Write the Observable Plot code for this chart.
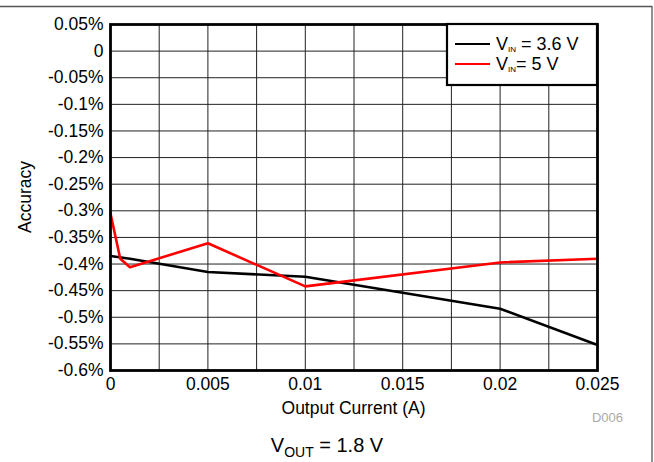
<!DOCTYPE html>
<html>
<head>
<meta charset="utf-8">
<script src="https://cdn.jsdelivr.net/npm/d3@7"></script>
<script src="https://cdn.jsdelivr.net/npm/@observablehq/plot@0.6"></script>
<style>
  html, body { margin: 0; padding: 0; background: #fff; }
  #chart svg { display: block; }
</style>
</head>
<body>
<div id="chart"></div>
<script>
// Data (accuracy in %)
const currentA = [0, 0.0005, 0.001, 0.005, 0.01, 0.02, 0.025];
const vin36 = [-0.385, null, -0.39, -0.415, -0.424, -0.484, -0.552];
const vin5 = [-0.305, -0.39, -0.406, -0.361, -0.442, -0.397, -0.39];

const seriesNames = ["VIN = 3.6 V", "VIN = 5 V"];
const seriesColors = ["#000000", "#ff0000"];

const yTicks = [0.05, 0, -0.05, -0.1, -0.15, -0.2, -0.25, -0.3, -0.35, -0.4, -0.45, -0.5, -0.55, -0.6];
const yTickLabels = ["0.05%", "0", "-0.05%", "-0.1%", "-0.15%", "-0.2%", "-0.25%", "-0.3%", "-0.35%", "-0.4%", "-0.45%", "-0.5%", "-0.55%", "-0.6%"];
const xTicks = [0, 0.005, 0.01, 0.015, 0.02, 0.025];
const xTickLabels = ["0", "0.005", "0.01", "0.015", "0.02", "0.025"];
const xGrid = [0.0025, 0.005, 0.0075, 0.01, 0.0125, 0.015, 0.0175, 0.02, 0.0225];

const rows = [];
currentA.forEach((x, i) => {
  if (vin36[i] != null) rows.push({x, y: vin36[i], s: seriesNames[0]});
});
currentA.forEach((x, i) => {
  if (vin5[i] != null) rows.push({x, y: vin5[i], s: seriesNames[1]});
});

const W = 654, H = 462;
const mL = 110, mR = 57, mT = 24, mB = 92;
const font = "'Liberation Sans', Arial, sans-serif";

const plot = Plot.plot({
  width: W,
  height: H,
  marginLeft: mL,
  marginRight: mR,
  marginTop: mT,
  marginBottom: mB,
  style: {fontFamily: font, fontSize: "17px", color: "#000", background: "#fff"},
  x: {domain: [0, 0.025]},
  y: {domain: [-0.6, 0.05]},
  color: {domain: seriesNames, range: seriesColors},
  marks: [
    Plot.ruleY(yTicks, {stroke: "#222", strokeWidth: 1}),
    Plot.ruleX(xGrid, {stroke: "#222", strokeWidth: 1}),
    Plot.axisY(yTicks, {tickFormat: d => yTickLabels[yTicks.findIndex(t => Math.abs(t - d) < 1e-9)], tickSize: 0, tickPadding: 7, label: null, fontSize: 17.5, fontFamily: font}),
    Plot.axisX(xTicks, {tickFormat: d => xTickLabels[xTicks.indexOf(d)], tickSize: 0, tickPadding: 7, label: null, fontSize: 17.5, fontFamily: font}),
    Plot.line(rows, {x: "x", y: "y", z: "s", stroke: "s", strokeWidth: 2.6}),
    Plot.frame({stroke: "#000", strokeWidth: 2.8})
  ]
});

document.getElementById("chart").appendChild(plot);

const svg = d3.select(plot);

// outer frame lines (top and right)
svg.append("line").attr("x1", 0).attr("x2", 652).attr("y1", 6.5).attr("y2", 6.5).attr("stroke", "#555").attr("stroke-width", 1.3);
svg.append("line").attr("x1", 652).attr("x2", 652).attr("y1", 6).attr("y2", H).attr("stroke", "#555").attr("stroke-width", 1.3);

// axis titles
svg.append("text").attr("transform", `translate(31,${(mT + H - mB) / 2}) rotate(-90)`)
  .attr("text-anchor", "middle").attr("font-family", font).attr("font-size", 17.5).text("Accuracy");
svg.append("text").attr("x", (mL + W - mR) / 2).attr("y", 414)
  .attr("text-anchor", "middle").attr("font-family", font).attr("font-size", 17.5).text("Output Current (A)");
svg.append("text").attr("x", 623).attr("y", 422)
  .attr("text-anchor", "end").attr("font-family", font).attr("font-size", 13).attr("fill", "#aaa").text("D006");

// caption
const cap = svg.append("text").attr("x", 327).attr("y", 452).attr("text-anchor", "middle")
  .attr("font-family", font).attr("font-size", 20);
cap.append("tspan").text("V");
cap.append("tspan").attr("font-size", 14).attr("dy", 5).text("OUT");
cap.append("tspan").attr("dy", -5).text(" = 1.8 V");

// legend
const lg = svg.append("g");
lg.append("rect").attr("x", 447).attr("y", 24).attr("width", 150).attr("height", 61)
  .attr("fill", "#fff").attr("stroke", "#000").attr("stroke-width", 2.2);
const legendLabels = [["V", "IN", " = 3.6 V"], ["V", "IN", "= 5 V"]];
legendLabels.forEach((lab, i) => {
  const yy = 44 + i * 20;
  lg.append("line").attr("x1", 455).attr("x2", 490).attr("y1", yy).attr("y2", yy)
    .attr("stroke", seriesColors[i]).attr("stroke-width", 2);
  const t = lg.append("text").attr("x", 496).attr("y", yy + 6).attr("text-anchor", "start")
    .attr("font-family", font).attr("font-size", 18);
  t.append("tspan").text(lab[0]);
  t.append("tspan").attr("font-size", 8).attr("dy", 2).text(lab[1]);
  t.append("tspan").attr("dy", -2).text(lab[2]);
});
</script>
</body>
</html>
